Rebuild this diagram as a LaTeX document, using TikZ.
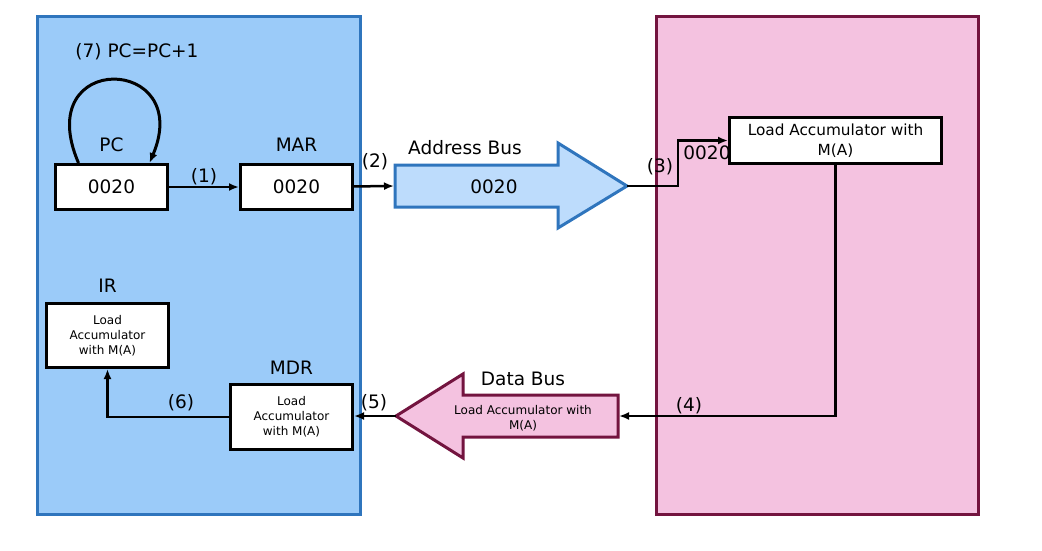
\documentclass[tikz,border=0pt]{standalone}
\usepackage{fontspec}
\setmainfont{DejaVu Sans}
\definecolor{cpuFill}{HTML}{9BCBF9}
\definecolor{cpuLine}{HTML}{2F75BD}
\definecolor{addrFill}{HTML}{BDDCFC}
\definecolor{memFill}{HTML}{F4C2E0}
\definecolor{memLine}{HTML}{73143F}
\usetikzlibrary{arrows.meta, positioning, calc}
\tikzset{
    cpuPanel/.style = {rectangle, draw=cpuLine, fill=cpuFill, line width=3pt, anchor=north west, inner sep=0pt},
    memPanel/.style = {cpuPanel, draw=memLine, fill=memFill},
    regNode/.style = {rectangle, draw=black, fill=white, line width=3pt, anchor=north west, inner sep=0pt, align=center, font=\fontsize{18.5}{21}\selectfont},
    smallRegNode/.style = {regNode, font=\fontsize{12}{15}\selectfont},
    memNode/.style = {regNode, font=\fontsize{15.3}{20}\selectfont},
    tagNode/.style = {inner sep=1pt, font=\fontsize{18.5}{21}\selectfont},
    busText/.style = {inner sep=0pt, align=center, font=\fontsize{12}{15}\selectfont},
    addrBusShape/.style = {draw=cpuLine, fill=addrFill, line width=3pt},
    dataBusShape/.style = {draw=memLine, fill=memFill, line width=3pt},
    connPath/.style = {-{Latex[length=10pt, width=8pt]}, draw=black, line width=2.5pt}
}
\begin{document}
\begin{tikzpicture}[x=1pt, y=-1pt]
    \useasboundingbox (0,0) rectangle (1042,550);
    % CPU and memory
    \node(cpu)[cpuPanel, minimum width=323pt, minimum height=498pt] at (36,15) {};
    \node(mem)[memPanel, minimum width=322pt, minimum height=498pt] at (655,15) {};
    % registers
    \node(pc)[regNode, minimum width=112pt, minimum height=45pt] at (54,163) {0020};
    \node(mar)[regNode, minimum width=112pt, minimum height=45pt] at (239,163) {0020};
    \node(ir)[smallRegNode, minimum width=122pt, minimum height=64pt] at (45,302) {Load\\Accumulator\\with M(A)};
    \node(mdr)[smallRegNode, minimum width=122pt, minimum height=65pt] at (229,383) {Load\\Accumulator\\with M(A)};
    \node[tagNode, above=10pt of pc] {PC};
    \node[tagNode, above=10pt of mar] {MAR};
    \node[tagNode, above=8.5pt of ir] {IR};
    \node[tagNode, above=7.5pt of mdr] {MDR};
    % address bus
    \filldraw[addrBusShape] (395,165) -- (558,165) -- (558,143) -- (627,186) -- (558,228) -- (558,207) -- (395,207) -- cycle;
    \coordinate(addrTail) at (394,186);
    \coordinate(addrTip) at (627,186);
    \node(addrVal)[tagNode] at (494,187) {0020};
    \node(addrName)[tagNode] at (465,148) {Address Bus};
    % data bus
    \filldraw[dataBusShape] (618,395) -- (463,395) -- (463,374) -- (396,416) -- (463,458) -- (463,437) -- (618,437) -- cycle;
    \coordinate(dataTail) at (619,416);
    \coordinate(dataTip) at (396,416);
    \node(dataVal)[busText] at (523,418) {Load Accumulator with\\M(A)};
    \node(dataName)[tagNode] at (523,379) {Data Bus};
    % memory word
    \node(memAddr)[tagNode] at (707,153) {0020};
    \node(memWord)[memNode, minimum width=212pt, minimum height=46pt] at (728,116) {Load Accumulator with\\M(A)};
    % steps
    \path[connPath] (pc) to node[tagNode, above]{(1)} (mar);
    \path[connPath] (mar) to (addrTail);
    \path[connPath] (addrTip) -- ++(51,0) |- (memWord.west);
    \path[connPath] (memWord.south) |- (dataTail);
    \path[connPath] (dataTip) -- (dataTip -| mdr.east);
    \path[connPath] (mdr.west) -| (ir.south);
    \path[connPath, line width=3pt] ([xshift=-33pt]pc.north) .. controls (30,50) and (195,55) .. ([xshift=38pt]pc.north);
    \node[tagNode] at (375,162) {(2)};
    \node[tagNode] at (660,167) {(3)};
    \node[tagNode] at (689,406) {(4)};
    \node[tagNode] at (374,403) {(5)};
    \node[tagNode] at (181,403) {(6)};
    \node[tagNode] at (137,52) {(7) PC=PC+1};
\end{tikzpicture}
\end{document}
